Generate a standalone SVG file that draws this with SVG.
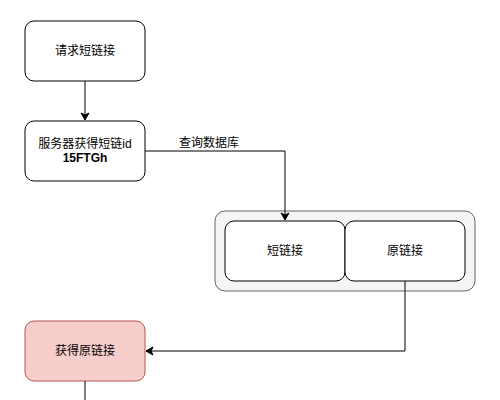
<svg xmlns="http://www.w3.org/2000/svg" width="500" height="400" viewBox="0 0 500 400">
<defs>
<style>
text{font-family:"Liberation Sans","Noto Sans CJK SC",sans-serif;font-size:12px;fill:#000;}
.n{fill:#fff;stroke:#000;stroke-width:1;}
.c{fill:none;stroke:#000;stroke-width:1;}
</style>
<marker id="ah" markerWidth="10" markerHeight="10" refX="8" refY="5" orient="auto" markerUnits="userSpaceOnUse">
<path d="M1,1 L8,5 L1,9 L3,5 Z" fill="#000" stroke="#000"/>
</marker>
</defs>
<rect width="500" height="400" fill="#fff"/>
<g id="n1"><rect class="n" x="25" y="21" width="120" height="60" rx="9"/><text x="85" y="55" text-anchor="middle">请求短链接</text></g>
<g id="n2"><rect class="n" x="25" y="121" width="120" height="60" rx="9"/><text x="85" y="148" text-anchor="middle">服务器获得短链id</text><text x="85" y="162" text-anchor="middle" font-weight="bold">15FTGh</text></g>
<g id="db"><rect x="215" y="211" width="260" height="80" rx="10" fill="#f5f5f5" stroke="#666"/></g>
<g id="n3"><rect class="n" x="225" y="221" width="120" height="60" rx="9"/><text x="285" y="255" text-anchor="middle">短链接</text></g>
<g id="n4"><rect class="n" x="345" y="221" width="120" height="60" rx="9"/><text x="405" y="255" text-anchor="middle">原链接</text></g>
<g id="n5"><rect x="25" y="321" width="120" height="60" rx="9" fill="#f8cecc" stroke="#b85450"/><text x="85" y="355" text-anchor="middle">获得原链接</text></g>
<g id="connectors">
<path class="c" d="M85,81 V120" marker-end="url(#ah)"/>
<path class="c" d="M145,151 H285 V220" marker-end="url(#ah)"/>
<path class="c" d="M405,281 V351 H146" marker-end="url(#ah)"/>
<path class="c" d="M85,381 V400"/>
<text x="209" y="147" text-anchor="middle">查询数据库</text>
</g>
</svg>
